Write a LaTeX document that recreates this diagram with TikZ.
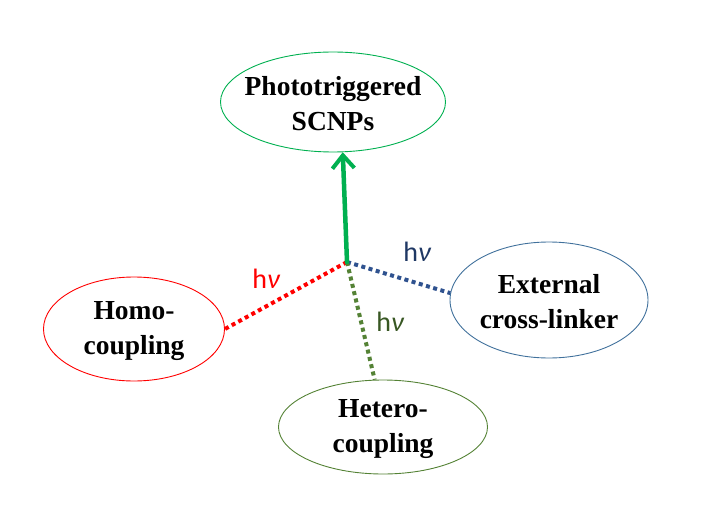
\documentclass[tikz,border=0pt]{standalone}
\usepackage{fontspec}
\setmainfont{Liberation Serif}
\newfontfamily\labelfont{Carlito}
\usetikzlibrary{shapes.geometric,arrows.meta}
\definecolor{topgreen}{RGB}{0,176,80}
\definecolor{homored}{RGB}{255,0,0}
\definecolor{extblue}{RGB}{65,113,156}
\definecolor{dotblue}{RGB}{47,82,143}
\definecolor{hetgreen}{RGB}{84,130,53}
\definecolor{navy}{RGB}{31,56,100}
\definecolor{olive}{RGB}{56,87,35}
\tikzset{
  oval/.style={ellipse, draw, line width=0.9pt, inner sep=0pt},
  ovaltext/.style={align=center, inner sep=0pt,
    font=\fontsize{27.5}{35}\selectfont\bfseries},
  dotline/.style={line width=4pt, dash pattern=on 4pt off 3.5pt},
  hvlabel/.style={font=\labelfont\fontsize{28}{30}\selectfont, inner sep=0pt}
}
\begin{document}
\begin{tikzpicture}[x=1pt,y=-1pt]
\useasboundingbox (0,0) rectangle (727,521);
\node[oval, draw=topgreen, minimum width=225pt, minimum height=100pt] (top) at (333,102) {};
\node[ovaltext] (toptext) at ([yshift=-2pt]top.center) {Phototriggered\\SCNPs};
\node[oval, draw=homored, minimum width=181pt, minimum height=104pt] (homo) at (134,329) {};
\node[ovaltext] (homotext) at ([yshift=-2pt]homo.center) {Homo-\\coupling};
\node[oval, draw=hetgreen, minimum width=209pt, minimum height=94pt] (het) at (383,427) {};
\node[ovaltext] (hettext) at ([yshift=-2pt]het.center) {Hetero-\\coupling};
\node[oval, draw=extblue, minimum width=198pt, minimum height=116pt] (ext) at (549,300) {};
\node[ovaltext] (exttext) at ([yshift=-2pt]ext.center) {External\\cross-linker};
\coordinate (c) at (347,262);
\draw[dotline, draw=homored] (c) -- (homo.east);
\draw[dotline, draw=dotblue] (c) -- (ext.176);
\draw[dotline, draw=hetgreen] (c) -- (het.100);
\draw[topgreen, line width=4.5pt, line cap=round, -{Straight Barb[length=13pt,width=22pt,line width=4pt]}] (c) -- (top.281);
\node[hvlabel, text=homored] (l1) at (266,279) {h\itshape ν};
\node[hvlabel, text=navy] (l2) at (417,252) {h\itshape ν};
\node[hvlabel, text=olive] (l3) at (390,322) {h\itshape ν};
\end{tikzpicture}
\end{document}
